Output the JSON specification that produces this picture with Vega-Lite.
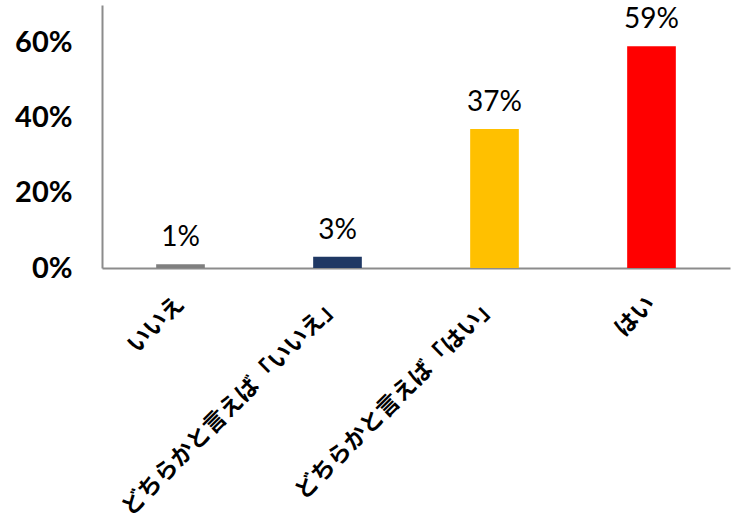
{
  "$schema": "https://vega.github.io/schema/vega-lite/v6.json",
  "width": 628,
  "height": 263,
  "autosize": "none",
  "padding": {"left": 102, "top": 5, "right": 6, "bottom": 261},
  "background": "white",
  "data": {
    "values": [
      {"answer": "いいえ", "share": 0.01, "label": "1%", "color": "#7f7f7f"},
      {"answer": "どちらかと言えば「いいえ」", "share": 0.03, "label": "3%", "color": "#1f3864"},
      {"answer": "どちらかと言えば「はい」", "share": 0.37, "label": "37%", "color": "#ffc000"},
      {"answer": "はい", "share": 0.59, "label": "59%", "color": "#ff0000"}
    ]
  },
  "config": {
    "view": {"stroke": null},
    "axis": {"grid": false, "ticks": false, "domainColor": "#8c8c8c", "domainWidth": 2, "title": null}
  },
  "encoding": {
    "x": {
      "field": "answer",
      "type": "nominal",
      "sort": null,
      "scale": {"paddingInner": 0.69, "paddingOuter": 0.345},
      "axis": {
        "labelAngle": -45,
        "labelAlign": "right",
        "labelBaseline": "middle",
        "labelFont": "Noto Sans CJK JP",
        "labelFontWeight": "bold",
        "labelFontSize": 23,
        "labelColor": "#000000",
        "labelPadding": 32,
        "labelLimit": 400,
        "labelOverlap": false
      }
    },
    "y": {
      "field": "share",
      "type": "quantitative",
      "scale": {"domain": [0, 0.7], "nice": false},
      "axis": {
        "values": [0, 0.2, 0.4, 0.6],
        "format": ".0%",
        "labelFont": "Lato",
        "labelFontWeight": "bold",
        "labelFontSize": 29,
        "labelColor": "#000000",
        "labelPadding": 30
      }
    }
  },
  "layer": [
    {
      "mark": {"type": "bar"},
      "encoding": {"color": {"field": "color", "type": "nominal", "scale": null}}
    },
    {
      "mark": {"type": "text", "baseline": "alphabetic", "dy": -18, "font": "Lato", "fontSize": 28, "color": "#000000"},
      "encoding": {"text": {"field": "label"}}
    }
  ]
}
